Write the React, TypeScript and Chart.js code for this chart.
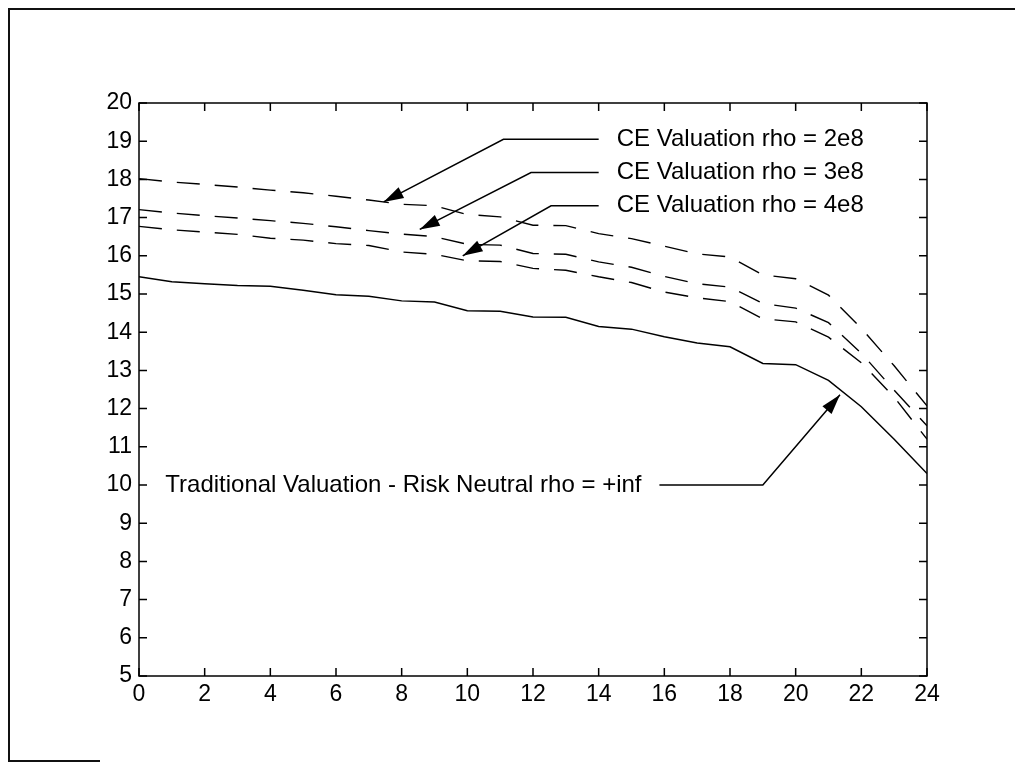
import React, { useEffect, useRef } from "react";
import { Chart, registerables } from "chart.js";

Chart.register(...registerables);

const hours = [0, 1, 2, 3, 4, 5, 6, 7, 8, 9, 10, 11, 12, 13, 14, 15, 16, 17, 18, 19, 20, 21, 22, 23, 24];

const traditional = [15.45, 15.32, 15.27, 15.22, 15.2, 15.1, 14.98, 14.94, 14.82, 14.79, 14.56, 14.55, 14.4, 14.39, 14.15, 14.08, 13.88, 13.72, 13.62, 13.18, 13.15, 12.74, 12.05, 11.2, 10.3];
const ce2e8 = [18.02, 17.93, 17.87, 17.8, 17.72, 17.65, 17.56, 17.46, 17.35, 17.31, 17.08, 17.02, 16.8, 16.79, 16.58, 16.45, 16.25, 16.05, 15.97, 15.5, 15.4, 14.97, 14.1, 13.12, 12.07];
const ce3e8 = [17.21, 17.12, 17.05, 16.99, 16.92, 16.85, 16.76, 16.66, 16.57, 16.5, 16.3, 16.28, 16.06, 16.04, 15.84, 15.7, 15.46, 15.27, 15.18, 14.75, 14.63, 14.25, 13.45, 12.48, 11.55];
const ce4e8 = [16.77, 16.68, 16.62, 16.56, 16.46, 16.41, 16.32, 16.27, 16.1, 16.04, 15.87, 15.85, 15.67, 15.62, 15.45, 15.3, 15.05, 14.9, 14.8, 14.35, 14.27, 13.87, 13.2, 12.3, 11.2];

const xTicks = [0, 2, 4, 6, 8, 10, 12, 14, 16, 18, 20, 22, 24];
const yTicks = [5, 6, 7, 8, 9, 10, 11, 12, 13, 14, 15, 16, 17, 18, 19, 20];

// annotation texts and their anchor points (data coordinates)
const annotationTexts = [
  "CE Valuation rho = 2e8",
  "CE Valuation rho = 3e8",
  "CE Valuation rho = 4e8",
  "Traditional Valuation - Risk Neutral rho = +inf",
];
const annotationTextAnchors = [
  [14.55, 19.05],
  [14.55, 18.18],
  [14.55, 17.31],
  [0.8, 10.0],
];
const annotationArrowPaths = [
  [[14.0, 19.05], [11.1, 19.05], [7.45, 17.41]],
  [[14.0, 18.18], [11.94, 18.18], [8.55, 16.69]],
  [[14.0, 17.31], [12.55, 17.31], [9.86, 16.0]],
  [[15.85, 10.0], [19.0, 10.0], [21.35, 12.36]],
];

const FONT = "'Liberation Sans', Arial, sans-serif";

const toPoints = (ys: number[]) => hours.map((h, i) => ({ x: h, y: ys[i] }));

const framePlugin = {
  id: "matlabFrame",
  afterDraw(chart: any) {
    const { ctx, chartArea, scales } = chart;
    const { left, right, top, bottom } = chartArea;
    ctx.save();
    ctx.strokeStyle = "#000";
    ctx.lineWidth = 1.5;
    ctx.strokeRect(left, top, right - left, bottom - top);
    const tl = 8;
    ctx.beginPath();
    xTicks.forEach((v) => {
      const px = scales.x.getPixelForValue(v);
      ctx.moveTo(px, bottom);
      ctx.lineTo(px, bottom - tl);
      ctx.moveTo(px, top);
      ctx.lineTo(px, top + tl);
    });
    yTicks.forEach((v) => {
      const py = scales.y.getPixelForValue(v);
      ctx.moveTo(left, py);
      ctx.lineTo(left + tl, py);
      ctx.moveTo(right, py);
      ctx.lineTo(right - tl, py);
    });
    ctx.stroke();

    // annotations
    ctx.fillStyle = "#000";
    ctx.font = `24px ${FONT}`;
    ctx.textBaseline = "middle";
    ctx.textAlign = "left";
    annotationTexts.forEach((t, i) => {
      const [ax, ay] = annotationTextAnchors[i];
      ctx.fillText(t, scales.x.getPixelForValue(ax), scales.y.getPixelForValue(ay));
    });
    ctx.lineWidth = 1.5;
    annotationArrowPaths.forEach((path) => {
      const pts = path.map(([x, y]) => [scales.x.getPixelForValue(x), scales.y.getPixelForValue(y)]);
      ctx.beginPath();
      pts.forEach(([x, y], j) => (j === 0 ? ctx.moveTo(x, y) : ctx.lineTo(x, y)));
      ctx.stroke();
      const [x1, y1] = pts[pts.length - 2];
      const [x2, y2] = pts[pts.length - 1];
      const ang = Math.atan2(y2 - y1, x2 - x1);
      const len = 20;
      const half = 6;
      const bx = x2 - len * Math.cos(ang);
      const by = y2 - len * Math.sin(ang);
      ctx.beginPath();
      ctx.moveTo(x2, y2);
      ctx.lineTo(bx + half * Math.sin(ang), by - half * Math.cos(ang));
      ctx.lineTo(bx - half * Math.sin(ang), by + half * Math.cos(ang));
      ctx.closePath();
      ctx.fill();
    });
    ctx.restore();
  },
};

export default function App() {
  const ref = useRef<HTMLCanvasElement | null>(null);
  useEffect(() => {
    if (!ref.current) return;
    const chart = new Chart(ref.current, {
      type: "line",
      data: {
        datasets: [
          { label: "Traditional", data: toPoints(traditional), borderColor: "#000", borderWidth: 1.5, pointRadius: 0, fill: false },
          { label: "CE 2e8", data: toPoints(ce2e8), borderColor: "#000", borderWidth: 1.4, borderDash: [23, 15], pointRadius: 0, fill: false },
          { label: "CE 3e8", data: toPoints(ce3e8), borderColor: "#000", borderWidth: 1.4, borderDash: [23, 15], pointRadius: 0, fill: false },
          { label: "CE 4e8", data: toPoints(ce4e8), borderColor: "#000", borderWidth: 1.4, borderDash: [23, 15], pointRadius: 0, fill: false },
        ],
      },
      options: {
        animation: false,
        responsive: false,
        devicePixelRatio: 1,
        layout: { padding: { left: 89, top: 103, right: 88, bottom: 50 } },
        plugins: { legend: { display: false }, tooltip: { enabled: false }, title: { display: false } },
        elements: { line: { tension: 0 } },
        scales: {
          x: {
            type: "linear",
            min: 0,
            max: 24,
            afterBuildTicks: (s: any) => { s.ticks = xTicks.map((v) => ({ value: v })); },
            afterFit: (s: any) => { s.height = 40; },
            grid: { display: false, drawTicks: false },
            border: { display: false },
            ticks: { color: "#000", padding: 5, font: { family: FONT, size: 23 }, maxRotation: 0, autoSkip: false },
          },
          y: {
            type: "linear",
            min: 5,
            max: 20,
            afterBuildTicks: (s: any) => { s.ticks = yTicks.map((v) => ({ value: v })); },
            afterFit: (s: any) => { s.width = 50; },
            grid: { display: false, drawTicks: false },
            border: { display: false },
            ticks: { color: "#000", padding: 7, font: { family: FONT, size: 23 }, autoSkip: false },
          },
        },
      },
      plugins: [framePlugin],
    });
    return () => chart.destroy();
  }, []);
  return (
    <div style={{ position: "absolute", left: 0, top: 0, width: 1015, height: 766, background: "#fff" }}>
      <div style={{ position: "absolute", left: 8, top: 8, width: 1007, height: 752, borderTop: "2px solid #111", borderLeft: "2px solid #111" }} />
      <div style={{ position: "absolute", left: 8, top: 760, width: 92, height: 0, borderTop: "2px solid #111" }} />
      <canvas ref={ref} width={1015} height={766} style={{ position: "absolute", left: 0, top: 0 }} />
    </div>
  );
}
